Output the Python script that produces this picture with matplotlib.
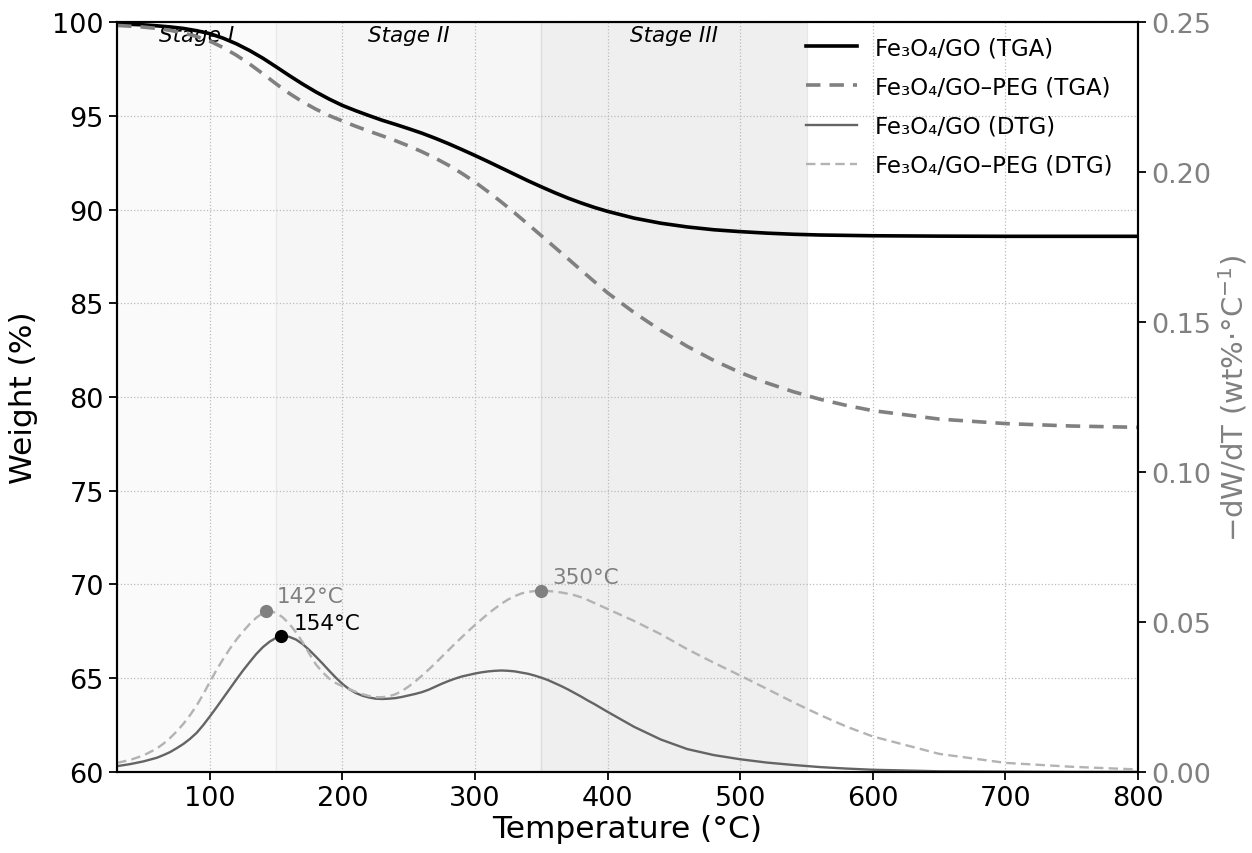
import matplotlib
matplotlib.use("Agg")
import matplotlib.pyplot as plt
from matplotlib.lines import Line2D

# ---- TGA: weight (%) vs temperature (°C) ----
temp_tga = [30, 40, 50, 60, 70, 80, 90, 100, 110, 120, 130, 140, 150, 160, 170, 180, 190,
            200, 210, 220, 230, 240, 250, 260, 270, 280, 290, 300, 310, 320, 330, 340, 350,
            360, 370, 380, 390, 400, 420, 440, 460, 480, 500, 520, 540, 560, 580, 600,
            650, 700, 750, 800]
tga_go = [99.90, 99.88, 99.85, 99.80, 99.74, 99.66, 99.54, 99.38, 99.14, 98.84, 98.48, 98.07,
          97.61, 97.14, 96.69, 96.27, 95.89, 95.55, 95.27, 95.01, 94.76, 94.54, 94.31, 94.07,
          93.80, 93.51, 93.20, 92.88, 92.55, 92.21, 91.87, 91.53, 91.21, 90.90, 90.61, 90.35,
          90.11, 89.90, 89.54, 89.27, 89.07, 88.92, 88.82, 88.74, 88.68, 88.64, 88.62, 88.60,
          88.58, 88.57, 88.57, 88.57]
tga_peg = [99.82, 99.78, 99.73, 99.66, 99.56, 99.42, 99.23, 98.98, 98.64, 98.23, 97.76, 97.24,
           96.70, 96.19, 95.74, 95.35, 95.01, 94.72, 94.44, 94.18, 93.93, 93.67, 93.39, 93.08,
           92.74, 92.36, 91.93, 91.46, 90.94, 90.39, 89.81, 89.21, 88.60, 87.99, 87.38, 86.76,
           86.15, 85.55, 84.50, 83.55, 82.70, 81.95, 81.30, 80.75, 80.28, 79.88, 79.55, 79.27,
           78.82, 78.58, 78.45, 78.38]

# ---- DTG: -dW/dT (wt%/°C) ----
temp_dtg = [30, 40, 50, 60, 65, 70, 75, 80, 85, 90, 95, 100, 105, 110, 115, 120, 125, 130,
            135, 140, 145, 150, 155, 160, 165, 170, 175, 180, 185, 190, 195, 200, 205, 210,
            215, 220, 225, 230, 235, 240, 245, 250, 255, 260, 265, 270, 275, 280, 285, 290,
            295, 300, 305, 310, 315, 320, 325, 330, 335, 340, 345, 350, 355, 360, 365, 370,
            375, 380, 385, 390, 395, 400, 420, 440, 460, 480, 500, 520, 540, 560, 580, 600,
            650, 700, 750, 800]
dtg_go = [0.0019, 0.0026, 0.0035, 0.0047, 0.0056, 0.0066, 0.0079, 0.0093, 0.0110, 0.0130,
          0.0156, 0.0185, 0.0215, 0.0246, 0.0277, 0.0308, 0.0338, 0.0366, 0.0393, 0.0416,
          0.0434, 0.0447, 0.0454, 0.0450, 0.0441, 0.0426, 0.0406, 0.0384, 0.0361, 0.0337,
          0.0314, 0.0293, 0.0276, 0.0263, 0.0254, 0.0248, 0.0244, 0.0243, 0.0244, 0.0246,
          0.0250, 0.0255, 0.0260, 0.0266, 0.0274, 0.0284, 0.0294, 0.0303, 0.0311, 0.0318,
          0.0323, 0.0328, 0.0332, 0.0335, 0.0337, 0.0338, 0.0337, 0.0335, 0.0331, 0.0327,
          0.0321, 0.0314, 0.0306, 0.0296, 0.0286, 0.0275, 0.0263, 0.0251, 0.0238, 0.0226,
          0.0213, 0.0200, 0.0150, 0.0108, 0.0076, 0.0056, 0.0042, 0.0031, 0.0023, 0.0016,
          0.0011, 0.0007, 0.0002, 0.0001, 0.0000, 0.0000]
dtg_peg = [0.0030, 0.0040, 0.0055, 0.0078, 0.0094, 0.0113, 0.0135, 0.0160, 0.0189, 0.0221,
           0.0259, 0.0300, 0.0340, 0.0376, 0.0410, 0.0441, 0.0468, 0.0493, 0.0514, 0.0530,
           0.0536, 0.0530, 0.0515, 0.0493, 0.0465, 0.0432, 0.0394, 0.0358, 0.0332, 0.0311,
           0.0296, 0.0285, 0.0276, 0.0267, 0.0259, 0.0253, 0.0249, 0.0249, 0.0252, 0.0259,
           0.0270, 0.0285, 0.0302, 0.0321, 0.0341, 0.0362, 0.0384, 0.0406, 0.0428, 0.0449,
           0.0470, 0.0490, 0.0509, 0.0528, 0.0545, 0.0561, 0.0575, 0.0586, 0.0595, 0.0600,
           0.0603, 0.0604, 0.0603, 0.0601, 0.0598, 0.0594, 0.0589, 0.0582, 0.0573, 0.0563,
           0.0553, 0.0543, 0.0503, 0.0459, 0.0409, 0.0364, 0.0321, 0.0277, 0.0232, 0.0190,
           0.0151, 0.0118, 0.0060, 0.0030, 0.0017, 0.0008]

# marked DTG peaks
peak_go = (154, 0.0454)
peaks_peg = [(142, 0.0538), (350, 0.0604)]

stage_edges = [30, 150, 350, 550]
stage_names = ["Stage I", "Stage II", "Stage III"]
stage_alpha = [0.04, 0.07, 0.12]

fig, ax = plt.subplots(figsize=(12.52, 8.54), dpi=100)
fig.subplots_adjust(left=0.0935, right=0.909, bottom=0.095, top=0.973)
ax2 = ax.twinx()

for lo, hi, name, a in zip(stage_edges[:-1], stage_edges[1:], stage_names, stage_alpha):
    ax.axvspan(lo, hi, color="grey", alpha=a, zorder=0)
    ax.text((lo + hi) / 2, 99.85, name, ha="center", va="top", style="italic", fontsize=15.5)

ax.grid(True, linestyle=":", color="#bbbbbb", linewidth=0.9)
ax.set_axisbelow(True)

ax.plot(temp_tga, tga_go, color="black", lw=2.6, zorder=3)
ax.plot(temp_tga, tga_peg, color="#808080", lw=2.6, ls=(0, (4, 2.5)), zorder=3)
ax2.plot(temp_dtg, dtg_go, color="#646464", lw=1.7)
ax2.plot(temp_dtg, dtg_peg, color="#b3b3b3", lw=1.7, ls=(0, (4, 2.2)))

ax2.plot(*peak_go, "o", color="black", ms=8.5, zorder=5)
ax2.annotate(f"{peak_go[0]}°C", peak_go, xytext=(9, 2), textcoords="offset points",
             fontsize=15.5, color="black", va="bottom")
for t, v in peaks_peg:
    ax2.plot(t, v, "o", color="#808080", ms=8.5, zorder=5)
    ax2.annotate(f"{t}°C", (t, v), xytext=(8, 3), textcoords="offset points",
                 fontsize=15.5, color="#808080", va="bottom")

ax.set_xlim(30, 800)
ax.set_ylim(60, 100)
ax2.set_ylim(0, 0.25)
ax.set_xticks([100, 200, 300, 400, 500, 600, 700, 800])
ax2.set_yticks([0, 0.05, 0.10, 0.15, 0.20, 0.25])

ax.set_xlabel("Temperature (°C)", fontsize=22.5, labelpad=2)
ax.set_ylabel("Weight (%)", fontsize=22.5, labelpad=10)
ax2.set_ylabel("−dW/dT (wt%·°C$^{-1}$)", fontsize=21, color="#808080", labelpad=4)

ax.tick_params(labelsize=19.5, width=1.3, length=6)
ax2.tick_params(labelsize=19.5, width=1.3, length=6, labelcolor="#808080")
for sp in list(ax.spines.values()) + list(ax2.spines.values()):
    sp.set_linewidth(1.5)

handles = [
    Line2D([], [], color="black", lw=2.6),
    Line2D([], [], color="#808080", lw=2.6, ls=(0, (4, 2.5))),
    Line2D([], [], color="#646464", lw=1.7),
    Line2D([], [], color="#b3b3b3", lw=1.7, ls=(0, (4, 2.2))),
]
labels = ["Fe₃O₄/GO (TGA)", "Fe₃O₄/GO–PEG (TGA)", "Fe₃O₄/GO (DTG)", "Fe₃O₄/GO–PEG (DTG)"]
ax2.legend(handles, labels, loc="upper right", bbox_to_anchor=(0.984, 0.993), frameon=False,
           fontsize=16.5, handlelength=2.2, handletextpad=0.8, labelspacing=0.7,
           borderaxespad=0)

fig.savefig("out.png", dpi=100)
